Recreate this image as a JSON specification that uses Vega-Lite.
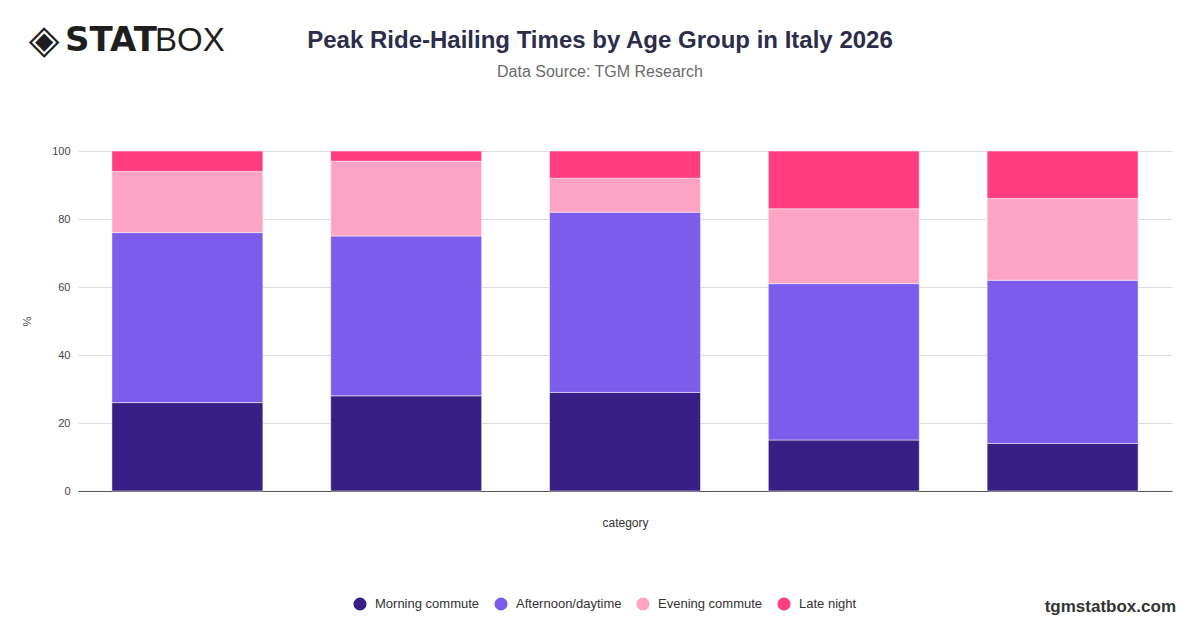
{
  "$schema": "https://vega.github.io/schema/vega-lite/v6.json",
  "description": "Peak ride-hailing times by age group in Italy 2026, stacked share bars",
  "width": 1094,
  "height": 340,
  "autosize": {"type": "none"},
  "padding": {"left": 78, "top": 151, "right": 28, "bottom": 137},
  "background": "white",
  "config": {
    "font": "Liberation Sans",
    "view": {"stroke": null}
  },
  "title": {
    "text": "Peak Ride-Hailing Times by Age Group in Italy 2026",
    "subtitle": "Data Source: TGM Research",
    "anchor": "middle",
    "dx": -25,
    "offset": -59,
    "font": "Liberation Sans",
    "fontSize": 24,
    "fontWeight": "bold",
    "color": "#2b2d4a",
    "subtitleFont": "Liberation Sans",
    "subtitleFontSize": 16,
    "subtitleColor": "#6b6b6b",
    "subtitlePadding": 11
  },
  "datasets": {
    "shares": [
      {"category": "18-24", "period": "Morning commute", "rank": 1, "value": 26},
      {"category": "18-24", "period": "Afternoon/daytime", "rank": 2, "value": 50},
      {"category": "18-24", "period": "Evening commute", "rank": 3, "value": 18},
      {"category": "18-24", "period": "Late night", "rank": 4, "value": 6},
      {"category": "25-34", "period": "Morning commute", "rank": 1, "value": 28},
      {"category": "25-34", "period": "Afternoon/daytime", "rank": 2, "value": 47},
      {"category": "25-34", "period": "Evening commute", "rank": 3, "value": 22},
      {"category": "25-34", "period": "Late night", "rank": 4, "value": 3},
      {"category": "35-44", "period": "Morning commute", "rank": 1, "value": 29},
      {"category": "35-44", "period": "Afternoon/daytime", "rank": 2, "value": 53},
      {"category": "35-44", "period": "Evening commute", "rank": 3, "value": 10},
      {"category": "35-44", "period": "Late night", "rank": 4, "value": 8},
      {"category": "45-54", "period": "Morning commute", "rank": 1, "value": 15},
      {"category": "45-54", "period": "Afternoon/daytime", "rank": 2, "value": 46},
      {"category": "45-54", "period": "Evening commute", "rank": 3, "value": 22},
      {"category": "45-54", "period": "Late night", "rank": 4, "value": 17},
      {"category": "55+", "period": "Morning commute", "rank": 1, "value": 14},
      {"category": "55+", "period": "Afternoon/daytime", "rank": 2, "value": 48},
      {"category": "55+", "period": "Evening commute", "rank": 3, "value": 24},
      {"category": "55+", "period": "Late night", "rank": 4, "value": 14}
    ]
  },
  "layer": [
    {
      "data": {"name": "shares"},
      "mark": {"type": "bar", "stroke": "white", "strokeWidth": 0.5},
      "encoding": {
        "x": {
          "field": "category",
          "type": "nominal",
          "sort": null,
          "scale": {"paddingInner": 0.31, "paddingOuter": 0.155},
          "axis": {
            "title": "category",
            "labels": false,
            "ticks": false,
            "domainColor": "#555555",
            "domainWidth": 1,
            "titleFontSize": 12,
            "titleFontWeight": "normal",
            "titleColor": "#333333",
            "titlePadding": 26
          }
        },
        "y": {
          "field": "value",
          "type": "quantitative",
          "stack": "zero",
          "scale": {"domain": [0, 100]},
          "axis": {
            "title": "%",
            "values": [0, 20, 40, 60, 80, 100],
            "domain": false,
            "ticks": false,
            "labelPadding": 8,
            "labelFontSize": 11,
            "labelColor": "#444444",
            "gridColor": "#dddddd",
            "titleFontSize": 11,
            "titleFontWeight": "normal",
            "titleColor": "#444444",
            "titlePadding": 19
          }
        },
        "order": {"field": "rank", "type": "quantitative", "sort": "ascending"},
        "color": {
          "field": "period",
          "type": "nominal",
          "scale": {
            "domain": ["Morning commute", "Afternoon/daytime", "Evening commute", "Late night"],
            "range": ["#371f85", "#7b5ceb", "#fda3c3", "#ff3d7f"]
          },
          "legend": {
            "title": null,
            "orient": "none",
            "direction": "horizontal",
            "legendX": 275,
            "legendY": 446,
            "symbolType": "circle",
            "symbolSize": 170,
            "symbolStrokeWidth": 0,
            "labelFontSize": 13,
            "labelColor": "#333333",
            "columnPadding": 14,
            "labelOffset": 8
          }
        }
      }
    },
    {
      "data": {"values": [{"logo": "◈"}]},
      "mark": {"type": "text", "align": "center", "baseline": "middle", "fontSize": 40, "color": "#1e1e1e", "font": "DejaVu Sans"},
      "encoding": {
        "text": {"field": "logo"},
        "x": {"value": -34},
        "y": {"value": -110}
      }
    },
    {
      "data": {"values": [{"logo": "STAT"}]},
      "mark": {"type": "text", "align": "left", "baseline": "middle", "fontSize": 34, "fontWeight": 900, "color": "#1e1e1e", "font": "DejaVu Sans"},
      "encoding": {
        "text": {"field": "logo"},
        "x": {"value": -13},
        "y": {"value": -110}
      }
    },
    {
      "data": {"values": [{"logo": "BOX"}]},
      "mark": {"type": "text", "align": "left", "baseline": "middle", "fontSize": 33, "fontWeight": "normal", "color": "#1e1e1e", "font": "Liberation Sans"},
      "encoding": {
        "text": {"field": "logo"},
        "x": {"value": 77},
        "y": {"value": -110}
      }
    },
    {
      "data": {"values": [{"site": "tgmstatbox.com"}]},
      "mark": {"type": "text", "align": "right", "baseline": "middle", "fontSize": 17, "fontWeight": "bold", "color": "#333333", "font": "Liberation Sans"},
      "encoding": {
        "text": {"field": "site"},
        "x": {"value": 1098},
        "y": {"value": 456}
      }
    }
  ]
}
